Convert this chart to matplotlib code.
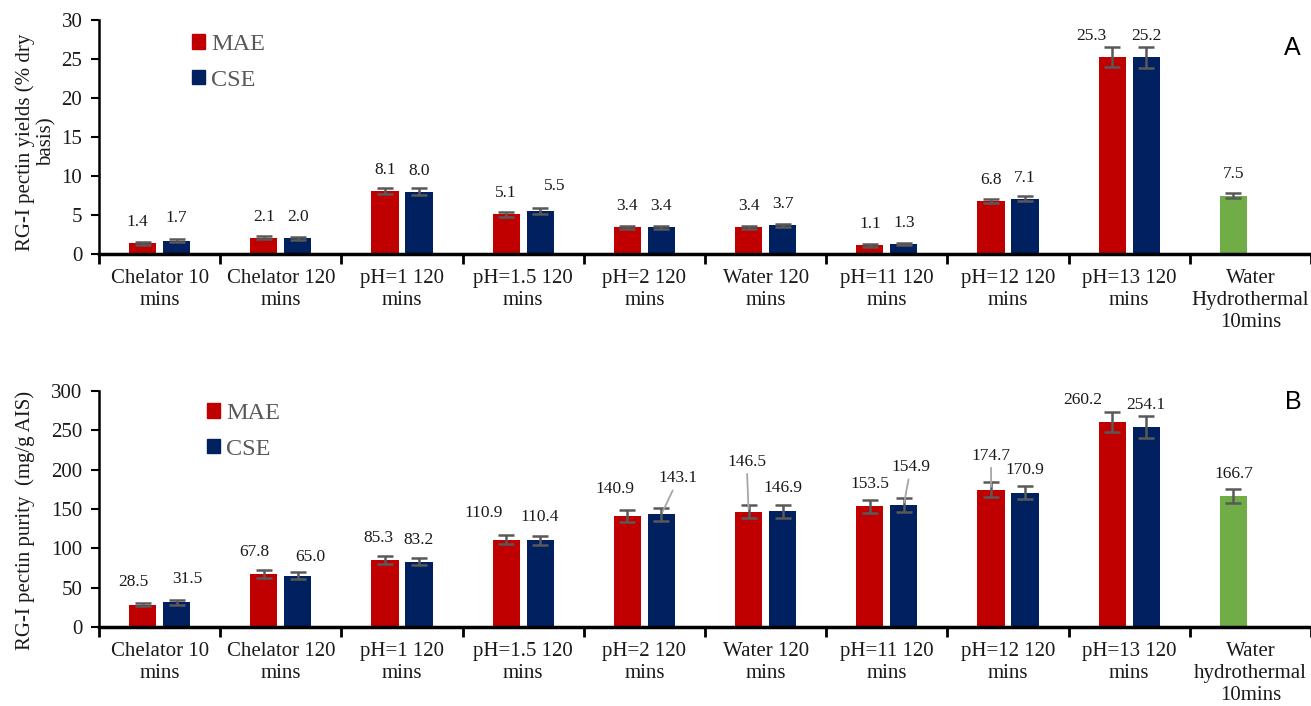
import matplotlib
matplotlib.use("Agg")
import matplotlib.pyplot as plt
import numpy as np
from matplotlib.patches import Patch

plt.rcParams['font.family'] = ['Liberation Serif', 'DejaVu Serif']

# ---- data -------------------------------------------------------------
categories_a = ["Chelator 10\nmins", "Chelator 120\nmins", "pH=1 120\nmins",
                "pH=1.5 120\nmins", "pH=2 120\nmins", "Water 120\nmins",
                "pH=11 120\nmins", "pH=12 120\nmins", "pH=13 120\nmins",
                "Water\nHydrothermal\n10mins"]
categories_b = categories_a[:-1] + ["Water\nhydrothermal\n10mins"]

yield_mae = [1.4, 2.1, 8.1, 5.1, 3.4, 3.4, 1.1, 6.8, 25.3]
yield_cse = [1.7, 2.0, 8.0, 5.5, 3.4, 3.7, 1.3, 7.1, 25.2]
yield_hydro = 7.5
yield_mae_err = [0.2, 0.2, 0.4, 0.3, 0.2, 0.2, 0.15, 0.3, 1.3]
yield_cse_err = [0.2, 0.15, 0.4, 0.4, 0.2, 0.2, 0.1, 0.3, 1.3]
yield_hydro_err = 0.35

purity_mae = [28.5, 67.8, 85.3, 110.9, 140.9, 146.5, 153.5, 174.7, 260.2]
purity_cse = [31.5, 65.0, 83.2, 110.4, 143.1, 146.9, 154.9, 170.9, 254.1]
purity_hydro = 166.7
purity_mae_err = [2.0, 5.0, 5.0, 5.7, 7.8, 8.0, 8.5, 9.0, 12.7]
purity_cse_err = [3.0, 4.5, 5.0, 5.7, 7.8, 8.0, 8.5, 8.7, 14.0]
purity_hydro_err = 8.7

# label placement (pixel offsets from bar top): (dx, dy, leader line)
yield_mae_lbl = [(-5, 21, False), (0, 21, False), (0, 21, False), (0, 21, False),
                 (0, 21, False), (0, 21, False), (0, 21, False), (0, 21, False),
                 (-21, 21, False)]
yield_cse_lbl = [(0, 23, False), (0, 21, False), (0, 21, False), (15, 25, False),
                 (0, 21, False), (0, 21, False), (0, 21, False), (0, 21, False),
                 (0, 21, False)]
purity_mae_lbl = [(-9, 23, False), (-10, 22, False), (-7, 22, False), (-23, 27, False),
                  (-12, 27, False), (-2, 50, True), (0, 22, False), (0, 34, True),
                  (-29, 22, False)]
purity_cse_lbl = [(11, 23, False), (13, 19, False), (0, 22, False), (0, 23, False),
                  (17, 36, True), (0, 23, False), (7, 38, True), (0, 23, False),
                  (0, 22, False)]

MAE_COLOR = "#C00000"
CSE_COLOR = "#002060"
HYDRO_COLOR = "#70AD47"
ERR_COLOR = "#595959"
TXT_COLOR = "#1a1a1a"

W, H = 1311, 706
fig = plt.figure(figsize=(W / 100, H / 100), dpi=100)


def px_axes(left, top, right, bottom):
    return fig.add_axes([left / W, 1 - bottom / H, (right - left) / W, (bottom - top) / H])


ax_a = px_axes(99, 20, 1311, 254)
ax_b = px_axes(99, 391, 1311, 627)

OFF = 0.14
BW = 0.225


def draw_panel(ax, cats, mae, cse, hydro, mae_err, cse_err, hydro_err,
               mae_lbl, cse_lbl, hydro_lbl, ymax, ystep, ylabel, ylabel_xy,
               letter, letter_xy, legend_xy):
    n = len(mae)
    x = np.arange(n)
    ekw = dict(ecolor=ERR_COLOR, elinewidth=1.8, capsize=6, capthick=1.8)
    ax.bar(x - OFF, mae, BW, color=MAE_COLOR, yerr=mae_err, error_kw=ekw, zorder=2)
    ax.bar(x + OFF, cse, BW, color=CSE_COLOR, yerr=cse_err, error_kw=ekw, zorder=2)
    ax.bar([n - OFF], [hydro], BW, color=HYDRO_COLOR, yerr=[hydro_err], error_kw=ekw, zorder=2)

    def label(xp, val, spec):
        dx, dy, leader = spec
        kw = {}
        if leader:
            kw['arrowprops'] = dict(arrowstyle='-', color='#A6A6A6', lw=1.3,
                                    shrinkA=1, shrinkB=2)
        ax.annotate("{:.1f}".format(val), xy=(xp, val), xytext=(dx, dy),
                    textcoords='offset pixels', ha='center', va='center',
                    fontsize=12.5, color=TXT_COLOR, zorder=4, **kw)

    for i in range(n):
        label(x[i] - OFF, mae[i], mae_lbl[i])
        label(x[i] + OFF, cse[i], cse_lbl[i])
    label(n - OFF, hydro, hydro_lbl)

    ax.set_xlim(-0.5, n + 0.5)
    ax.set_ylim(0, ymax)
    ax.set_yticks(np.arange(0, ymax + ystep / 2, ystep))
    ax.tick_params(axis='y', direction='out', length=6, width=1.5, labelsize=15,
                   colors='black', labelcolor=TXT_COLOR, pad=6)
    ax.set_xticks(np.arange(-0.5, n + 1, 1.0))
    ax.set_xticklabels([])
    ax.tick_params(axis='x', which='major', direction='out', length=7, width=2, colors='black')
    ax.set_xticks(np.arange(n + 1), minor=True)
    ax.set_xticklabels(cats, minor=True, fontsize=15, color=TXT_COLOR)
    ax.tick_params(axis='x', which='minor', length=0, pad=11)
    for side in ('top', 'right'):
        ax.spines[side].set_visible(False)
    ax.spines['left'].set_linewidth(1.8)
    ax.spines['bottom'].set_linewidth(2.5)

    # y label, placed in figure pixels
    fig.text(ylabel_xy[0] / W, 1 - ylabel_xy[1] / H, ylabel, rotation=90,
             ha='center', va='center', fontsize=15, color=TXT_COLOR,
             linespacing=1.15, multialignment='center')

    fig.text(letter_xy[0] / W, 1 - letter_xy[1] / H, letter, fontsize=18,
             family='Liberation Sans', ha='center', va='center')

    handles = [Patch(color=MAE_COLOR), Patch(color=CSE_COLOR)]
    leg = ax.legend(handles, ["MAE", "CSE"], loc='upper left',
                    bbox_to_anchor=(legend_xy[0] / W, 1 - legend_xy[1] / H),
                    bbox_transform=fig.transFigure,
                    frameon=False, fontsize=17.5, handlelength=0.55, handleheight=0.55,
                    handletextpad=0.25, labelspacing=0.6, borderpad=0, borderaxespad=0)
    for t in leg.get_texts():
        t.set_color('#595959')
    return ax


draw_panel(ax_a, categories_a, yield_mae, yield_cse, yield_hydro,
           yield_mae_err, yield_cse_err, yield_hydro_err,
           yield_mae_lbl, yield_cse_lbl, (0, 22, False),
           30, 5, "RG-I pectin yields (% dry\nbasis)", (36, 142), "A", (1292, 48),
           (192, 34))
draw_panel(ax_b, categories_b, purity_mae, purity_cse, purity_hydro,
           purity_mae_err, purity_cse_err, purity_hydro_err,
           purity_mae_lbl, purity_cse_lbl, (0, 22, False),
           300, 50, "RG-I pectin purity  (mg/g AIS)", (25, 520), "B", (1293, 402),
           (207, 403))

fig.savefig("out.png", dpi=100, facecolor='white')
